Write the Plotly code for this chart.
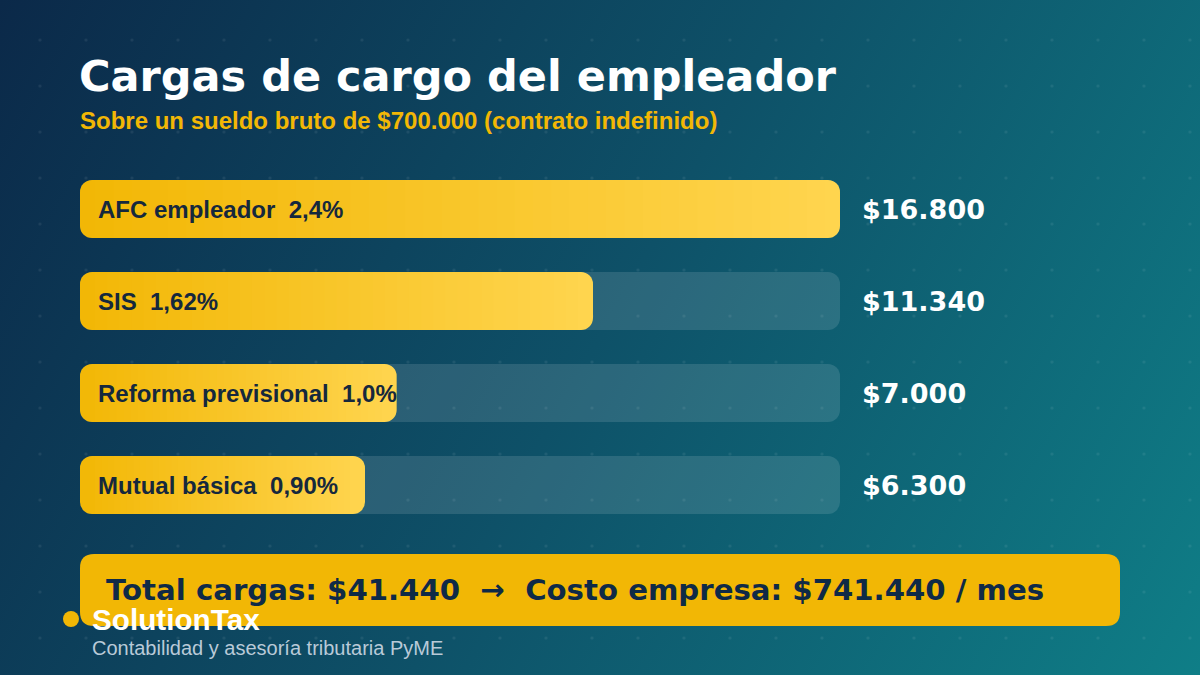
import base64
import plotly.graph_objects as go

# ---------------- data ----------------
categories = ["AFC empleador", "SIS", "Reforma previsional", "Mutual básica"]
rates = ["2,4%", "1,62%", "1,0%", "0,90%"]
amounts = [16800, 11340, 7000, 6300]
salary = 700000

title = "Cargas de cargo del empleador"
subtitle = "Sobre un sueldo bruto de $700.000 (contrato indefinido)"
brand = "SolutionTax"
brand_sub = "Contabilidad y asesoría tributaria PyME"


def clp(v):
    return "$" + f"{v:,}".replace(",", ".")


total = sum(amounts)
cost = salary + total

W, H = 1200, 675
FONT = "Liberation Sans, Arial, sans-serif"
HEAVY = "DejaVu Sans, Arial Black, sans-serif"
NAVY = "#15283d"
YEL = "#f2b705"
C0 = (242, 183, 5)
C1 = (255, 213, 79)

# ---------------- background (svg gradient + dot grid) ----------------
svg = f'''<svg xmlns="http://www.w3.org/2000/svg" width="{W}" height="{H}" viewBox="0 0 {W} {H}" preserveAspectRatio="none">
<defs>
<linearGradient id="g" gradientUnits="userSpaceOnUse" x1="0" y1="0" x2="{W}" y2="{H}">
<stop offset="0" stop-color="#0b2949"/>
<stop offset="0.5" stop-color="#0e5168"/>
<stop offset="1" stop-color="#0f7e87"/>
</linearGradient>
<pattern id="d" patternUnits="userSpaceOnUse" x="0" y="0" width="46" height="46">
<circle cx="40" cy="40" r="1.6" fill="#ffffff" fill-opacity="0.07"/>
</pattern>
</defs>
<rect width="{W}" height="{H}" fill="url(#g)"/>
<rect width="{W}" height="{H}" fill="url(#d)"/>
</svg>'''
bg_uri = "data:image/svg+xml;base64," + base64.b64encode(svg.encode()).decode()

# ---------------- axes geometry ----------------
vmax = max(amounts)
k = 760 / vmax  # px per unit
xr = [-80 / k, (W - 80) / k]
pitch, first = 92, 209
n = len(categories)
yr = [n - 1 + (H - (first + pitch * (n - 1))) / pitch, -first / pitch]
bw = 58 / pitch
R = 12

fig = go.Figure()

# track (one rounded bar per category)
fig.add_trace(go.Bar(y=categories, x=[vmax] * n, base=[0] * n, orientation="h", width=bw,
                     marker=dict(color="rgba(255,255,255,0.12)", line_width=0, cornerradius=R),
                     hoverinfo="skip", showlegend=False))


def mix(t):
    return "rgb(%d,%d,%d)" % tuple(round(a + (b - a) * t) for a, b in zip(C0, C1))


capw = (R + 3) / k       # rounded end cap length (data units)
e = 2 * R / k            # extra so rounded inner end of caps hides under middle
N = 40
# left caps
fig.add_trace(go.Bar(y=categories, x=[capw + e] * n, base=[0] * n,
                     orientation="h", width=bw,
                     marker=dict(color=[mix(capw / v / 2) for v in amounts], line_width=0, cornerradius=R),
                     hoverinfo="skip", showlegend=False))
# right caps
fig.add_trace(go.Bar(y=categories, x=[capw + e] * n, base=[v - capw - e for v in amounts],
                     orientation="h", width=bw,
                     marker=dict(color=[mix(1 - capw / v / 2) for v in amounts], line_width=0, cornerradius=R),
                     hoverinfo="skip", showlegend=False))
# middle gradient segments (drawn last, square corners)
my, mx, mb, mc = [], [], [], []
for cat, v in zip(categories, amounts):
    start, end = capw, v - capw
    seg = (end - start) / N
    for i in range(N):
        b = start + i * seg
        my.append(cat)
        mb.append(b)
        mx.append(min(seg * 1.6, end - b))
        mc.append(mix((b + seg / 2) / v))
fig.add_trace(go.Bar(y=my, x=mx, base=mb, orientation="h", width=bw,
                     marker=dict(color=mc, line_width=0),
                     hoverinfo="skip", showlegend=False))

ann = []
for cat, r, v in zip(categories, rates, amounts):
    ann.append(dict(x=96 / W, xref="paper", y=cat, yref="y", xanchor="left", yanchor="middle",
                    text=f"{cat}\u00a0 {r}", showarrow=False,
                    font=dict(family=FONT, size=24, color=NAVY, weight="bold")))
    ann.append(dict(x=860 / W, xref="paper", y=cat, yref="y", xanchor="left", yanchor="middle",
                    text=clp(v), showarrow=False,
                    font=dict(family=HEAVY, size=27, color="white", weight="bold")))

# title & subtitle
ann.append(dict(x=77 / W, xref="paper", y=1 - 76 / H, yref="paper", xanchor="left", yanchor="middle",
                text=title, showarrow=False,
                font=dict(family=HEAVY, size=43, color="white", weight="bold")))
ann.append(dict(x=78 / W, xref="paper", y=1 - 120 / H, yref="paper", xanchor="left", yanchor="middle",
                text=subtitle, showarrow=False,
                font=dict(family=FONT, size=24, color="#f2b705", weight="bold")))

# total text
ann.append(dict(x=104 / W, xref="paper", y=1 - 590 / H, yref="paper", xanchor="left", yanchor="middle",
                text=f"Total cargas: {clp(total)}\u00a0 →\u00a0 Costo empresa: {clp(cost)} / mes", showarrow=False,
                font=dict(family=HEAVY, size=29.2, color="#0f2a47", weight="bold")))

# footer
ann.append(dict(x=90 / W, xref="paper", y=1 - 619 / H, yref="paper", xanchor="left", yanchor="middle",
                text=brand, showarrow=False,
                font=dict(family=FONT, size=29.7, color="white", weight="bold")))
ann.append(dict(x=90 / W, xref="paper", y=1 - 648 / H, yref="paper", xanchor="left", yanchor="middle",
                text=brand_sub, showarrow=False,
                font=dict(family=FONT, size=20, color="#b9cad8")))


# rounded total box
def rrect(x0, y0, x1, y1, r):
    px = lambda x: x / W
    py = lambda y: 1 - y / H
    return (f"M {px(x0 + r)} {py(y0)} L {px(x1 - r)} {py(y0)} "
            f"Q {px(x1)} {py(y0)} {px(x1)} {py(y0 + r)} L {px(x1)} {py(y1 - r)} "
            f"Q {px(x1)} {py(y1)} {px(x1 - r)} {py(y1)} L {px(x0 + r)} {py(y1)} "
            f"Q {px(x0)} {py(y1)} {px(x0)} {py(y1 - r)} L {px(x0)} {py(y0 + r)} "
            f"Q {px(x0)} {py(y0)} {px(x0 + r)} {py(y0)} Z")


shapes = [
    dict(type="path", xref="paper", yref="paper", path=rrect(80, 554, 1120, 626, 14),
         fillcolor=YEL, line_width=0, layer="above"),
    dict(type="circle", xref="paper", yref="paper", x0=63 / W, x1=79 / W, y0=1 - 627 / H, y1=1 - 611 / H,
         fillcolor=YEL, line_width=0, layer="above"),
]

fig.update_layout(
    width=W, height=H,
    margin=dict(l=0, r=0, t=0, b=0),
    paper_bgcolor="#0d4460",
    plot_bgcolor="rgba(0,0,0,0)",
    barmode="overlay",
    showlegend=False,
    xaxis=dict(range=xr, visible=False, fixedrange=True),
    yaxis=dict(range=yr, visible=False, type="category", categoryorder="array",
               categoryarray=categories, fixedrange=True),
    images=[dict(source=bg_uri, xref="paper", yref="paper", x=0, y=1, sizex=1, sizey=1,
                 sizing="stretch", layer="below", xanchor="left", yanchor="top")],
    shapes=shapes,
    annotations=ann,
)

fig.write_html("out.html", config={"displayModeBar": False})
